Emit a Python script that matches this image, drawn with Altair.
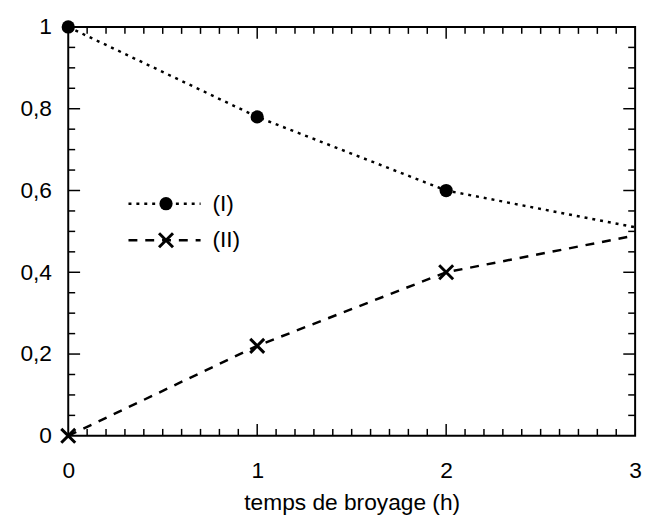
import altair as alt
import pandas as pd

# --- data ---
temps = [0, 1, 2, 3]
serie_I = [1.0, 0.78, 0.60, 0.51]
serie_II = [0.0, 0.22, 0.40, 0.49]
temps_mesures = [0, 1, 2]
mesures_I = [1.0, 0.78, 0.60]
mesures_II = [0.0, 0.22, 0.40]

x_labels = [0, 1, 2, 3]
y_labels = [0, 0.2, 0.4, 0.6, 0.8, 1]
x_major_inner = [1, 2]
y_major_inner = [0.2, 0.4, 0.6, 0.8]
x_minor = [i / 10 for i in range(1, 30) if i % 10 != 0]
y_minor = [i / 20 for i in range(1, 20) if i % 4 != 0]
legend_labels = ["(I)", "(II)"]

W, H = 574, 414
FONT = "Liberation Sans"
FS = 23
MAJ, MIN = 12, 7

xscale = alt.Scale(domain=[0, 3], nice=False, zero=False)
yscale = alt.Scale(domain=[0, 1], nice=False, zero=False)

xaxis = alt.Axis(values=x_labels, ticks=False, tickSize=0, domain=False, grid=False,
                 labelFont=FONT, labelFontSize=FS, labelColor="black",
                 labelPadding=42, labelBaseline="alphabetic", labelFlush=False,
                 labelOverlap=False,
                 title="temps de broyage (h)", titleFont=FONT, titleFontSize=FS,
                 titleFontWeight="normal", titleColor="black",
                 titleBaseline="alphabetic", titleY=75)
yaxis = alt.Axis(values=y_labels, ticks=False, tickSize=0, domain=False, grid=False,
                 labelFont=FONT, labelFontSize=FS, labelColor="black",
                 labelPadding=17, labelBaseline="middle", labelFlush=False,
                 labelOverlap=False,
                 labelExpr="replace(format(datum.value, '.1~f'), '.', ',')",
                 title="")

df_I = pd.DataFrame({"t": temps, "v": serie_I})
df_II = pd.DataFrame({"t": temps, "v": serie_II})
dm_I = pd.DataFrame({"t": temps_mesures, "v": mesures_I})
dm_II = pd.DataFrame({"t": temps_mesures, "v": mesures_II})

X = alt.X("t:Q", scale=xscale, axis=xaxis)
Y = alt.Y("v:Q", scale=yscale, axis=yaxis)

line_I = alt.Chart(df_I).mark_line(color="black", strokeWidth=2.5, strokeDash=[3, 5]).encode(x=X, y=Y)
line_II = alt.Chart(df_II).mark_line(color="black", strokeWidth=2.5, strokeDash=[9, 8]).encode(x=X, y=Y)
pts_I = alt.Chart(dm_I).mark_point(shape="circle", filled=True, color="black", size=180,
                                   opacity=1).encode(x=X, y=Y)
XSHAPE = "M-1,-1L1,1M-1,1L1,-1"
pts_II = alt.Chart(dm_II).mark_point(shape=XSHAPE, filled=False, color="black", size=200,
                                     strokeWidth=3, opacity=1).encode(x=X, y=Y)

# ticks pointing inward on all four sides
def xt(vals, length, top):
    d = pd.DataFrame({"t": vals})
    if top:
        return alt.Chart(d).mark_rule(color="black", strokeWidth=1.5).encode(
            x=X, y=alt.value(0), y2=alt.value(length))
    return alt.Chart(d).mark_rule(color="black", strokeWidth=1.5).encode(
        x=X, y=alt.value(H), y2=alt.value(H - length))

def yt(vals, length, right):
    d = pd.DataFrame({"v": vals})
    if right:
        return alt.Chart(d).mark_rule(color="black", strokeWidth=1.5).encode(
            y=Y, x=alt.value(W), x2=alt.value(W - length))
    return alt.Chart(d).mark_rule(color="black", strokeWidth=1.5).encode(
        y=Y, x=alt.value(0), x2=alt.value(length))

ticks = [xt(x_minor, MIN, False), xt(x_minor, MIN, True),
         xt(x_major_inner, MAJ, False), xt(x_major_inner, MAJ, True),
         yt(y_minor, MIN, False), yt(y_minor, MIN, True),
         yt(y_major_inner, MAJ, False), yt(y_major_inner, MAJ, True)]

# legend drawn inside the plot
leg = pd.DataFrame({"label": legend_labels})
LX0, LX1, LM, LT = 61, 134, 99, 146
LY = [179, 216]
leg_line_I = alt.Chart(leg.iloc[[0]]).mark_rule(color="black", strokeWidth=2.5, strokeDash=[3, 5]).encode(
    x=alt.value(LX0), x2=alt.value(LX1), y=alt.value(LY[0]))
leg_line_II = alt.Chart(leg.iloc[[1]]).mark_rule(color="black", strokeWidth=2.5, strokeDash=[9, 8]).encode(
    x=alt.value(LX0), x2=alt.value(LX1), y=alt.value(LY[1]))
leg_pt_I = alt.Chart(leg.iloc[[0]]).mark_point(shape="circle", filled=True, color="black", size=180,
                                               opacity=1).encode(x=alt.value(LM), y=alt.value(LY[0]))
leg_pt_II = alt.Chart(leg.iloc[[1]]).mark_point(shape=XSHAPE, filled=False, color="black", size=200,
                                                strokeWidth=3, opacity=1).encode(x=alt.value(LM), y=alt.value(LY[1]))
leg_txt_I = alt.Chart(leg.iloc[[0]]).mark_text(font=FONT, fontSize=FS, align="left", baseline="middle",
                                               color="black").encode(
    x=alt.value(LT), y=alt.value(LY[0]), text="label:N")
leg_txt_II = alt.Chart(leg.iloc[[1]]).mark_text(font=FONT, fontSize=FS, align="left", baseline="middle",
                                                color="black").encode(
    x=alt.value(LT), y=alt.value(LY[1]), text="label:N")

chart = alt.layer(
    line_I, line_II, *ticks, pts_I, pts_II,
    leg_line_I, leg_line_II, leg_pt_I, leg_pt_II, leg_txt_I, leg_txt_II
).properties(
    width=W, height=H,
    autosize=alt.AutoSizeParams(type="none"),
    padding={"left": 61, "top": 16, "right": 10, "bottom": 79},
    background="white",
).configure_view(stroke="black", strokeWidth=2)

chart.save("out.html", embed_options={"renderer": "svg", "actions": False})
